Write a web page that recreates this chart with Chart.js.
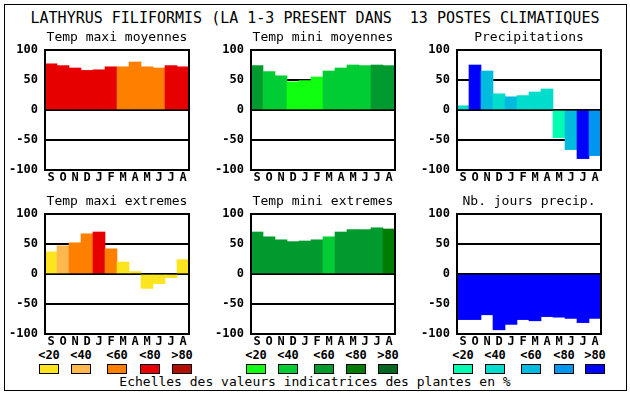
<!DOCTYPE html>
<html>
<head>
<meta charset="utf-8">
<script src="https://cdn.jsdelivr.net/npm/chart.js@4"></script>
<style>
  body { margin: 0; background: #fff; width: 630px; height: 394px; position: relative; overflow: hidden; }
  canvas { position: absolute; }
  .txt { position: absolute; font-family: "DejaVu Sans Mono", monospace; color: #000; white-space: pre; }
  #cadre { position: absolute; left: 4px; top: 4px; width: 623px; height: 387px; border: 1px solid #000; box-sizing: border-box; }
  .box { position: absolute; width: 20px; height: 10px; border: 1px solid #000; box-sizing: border-box; }
  .lab { position: absolute; width: 30px; text-align: center; font: bold 12px "DejaVu Sans Mono", monospace; }
</style>
</head>
<body>
<div id="cadre"></div>
<div class="txt" style="left:0;top:9px;width:630px;text-align:center;font-size:15px;line-height:18px;">LATHYRUS FILIFORMIS (LA 1-3 PRESENT DANS  13 POSTES CLIMATIQUES</div>
<div class="txt" style="left:0;top:374px;width:630px;text-align:center;font-size:13px;line-height:16px;">Echelles des valeurs indicatrices des plantes en %</div>
<div id="legende"></div>

<script>
// Donnees
const mois = ['S', 'O', 'N', 'D', 'J', 'F', 'M', 'A', 'M', 'J', 'J', 'A'];
const yTicks = [100, 50, 0, -50, -100];
const classes = ['<20', '<40', '<60', '<80', '>80'];

const tmaxMoy = [77, 74, 70, 66, 67, 72, 72, 80, 72, 70, 74, 72];
const tmaxMoyClasse = [3, 3, 3, 3, 3, 3, 2, 2, 2, 2, 3, 3];
const tminMoy = [74, 64, 57, 47, 49, 55, 65, 70, 75, 74, 75, 74];
const tminMoyClasse = [2, 1, 1, 0, 0, 0, 1, 1, 1, 1, 2, 2];
const precip = [7, 75, 65, 27, 22, 24, 30, 35, -46, -66, -81, -76];
const precipClasse = [1, 4, 2, 1, 2, 1, 1, 1, 0, 2, 4, 3];
const tmaxExt = [37, 47, 52, 67, 70, 42, 20, 4, -24, -16, -6, 24];
const tmaxExtClasse = [0, 1, 2, 2, 3, 2, 0, 0, 0, 0, 0, 0];
const tminExt = [70, 62, 57, 54, 55, 57, 62, 70, 74, 74, 77, 75];
const tminExtClasse = [2, 2, 2, 2, 2, 2, 1, 2, 2, 2, 2, 3];
const nbJours = [-76, -76, -68, -93, -84, -76, -78, -71, -72, -74, -81, -74];
const nbJoursClasse = [4, 4, 4, 4, 4, 4, 4, 4, 4, 4, 4, 4];

// Palettes
const rouges = ['#fce51e', '#ffb84d', '#ff7f00', '#e60000', '#b00e00'];
const verts = ['#10ff10', '#00cc33', '#009a2e', '#007d00', '#006622'];
const bleus = ['#00ffb0', '#00ddcc', '#00bbdd', '#0096f0', '#0000ff'];

const police = "'DejaVu Sans Mono', monospace";

// Cadre noir autour de la zone du graphique
const cadrePlugin = {
    id: 'cadre',
    afterDraw: (chart) => {
        const {ctx, chartArea} = chart;
        ctx.save();
        ctx.strokeStyle = '#000';
        ctx.lineWidth = 2;
        ctx.strokeRect(chartArea.left, chartArea.top, chartArea.right - chartArea.left, chartArea.bottom - chartArea.top);
        ctx.restore();
    }
};

function panneau(id, left, top, titre, valeurs, classe, palette) {
    const canvas = document.createElement('canvas');
    canvas.id = id;
    canvas.width = 192;
    canvas.height = 156;
    canvas.style.left = left + 'px';
    canvas.style.top = top + 'px';
    document.body.appendChild(canvas);

    return new Chart(canvas, {
        type: 'bar',
        data: {
            labels: mois,
            datasets: [{
                data: valeurs,
                backgroundColor: classe.map(c => palette[c]),
                borderWidth: 0,
                barPercentage: 1,
                categoryPercentage: 1
            }]
        },
        options: {
            responsive: false,
            animation: false,
            layout: { padding: { left: 0, right: 4, top: 0, bottom: 0 } },
            plugins: {
                legend: { display: false },
                tooltip: { enabled: false },
                title: {
                    display: true,
                    text: titre,
                    fullSize: false,
                    color: '#000',
                    font: { family: police, size: 13, weight: 'normal', lineHeight: '16px' },
                    padding: { top: 0, bottom: 4 }
                }
            },
            scales: {
                x: {
                    grid: { display: false, drawTicks: false },
                    border: { display: false },
                    ticks: {
                        color: '#000',
                        autoSkip: false,
                        maxRotation: 0,
                        padding: 1,
                        font: { family: police, size: 12, weight: 'bold' }
                    },
                    afterFit: (s) => { s.height = 16; }
                },
                y: {
                    min: -100,
                    max: 100,
                    z: 1,
                    grid: { color: '#000', lineWidth: 2, drawTicks: false },
                    border: { display: false },
                    afterBuildTicks: (s) => { s.ticks = yTicks.map(v => ({ value: v })); },
                    ticks: {
                        color: '#000',
                        padding: 7,
                        font: { family: police, size: 12, weight: 'bold' }
                    },
                    afterFit: (s) => { s.width = 44; }
                }
            }
        },
        plugins: [cadrePlugin]
    });
}

panneau('c1', 1, 30, 'Temp maxi moyennes', tmaxMoy, tmaxMoyClasse, rouges);
panneau('c2', 207, 30, 'Temp mini moyennes', tminMoy, tminMoyClasse, verts);
panneau('c3', 413, 30, 'Precipitations', precip, precipClasse, bleus);
panneau('c4', 1, 194, 'Temp maxi extremes', tmaxExt, tmaxExtClasse, rouges);
panneau('c5', 207, 194, 'Temp mini extremes', tminExt, tminExtClasse, verts);
panneau('c6', 413, 194, 'Nb. jours precip.', nbJours, nbJoursClasse, bleus);

// Echelles de couleurs sous les panneaux
const legende = document.querySelector('#legende');
const positions = [
    [39, 71, 107, 140, 172],
    [246, 278, 314, 346, 378],
    [453, 485, 521, 554, 585]
];
const palettes = [rouges, verts, bleus];
positions.forEach((xs, p) => {
    xs.forEach((x, i) => {
        const lab = document.createElement('div');
        lab.className = 'lab';
        lab.style.left = (x - 5) + 'px';
        lab.style.top = '348px';
        lab.textContent = classes[i];
        legende.appendChild(lab);

        const box = document.createElement('div');
        box.className = 'box';
        box.style.left = x + 'px';
        box.style.top = '364px';
        box.style.background = palettes[p][i];
        legende.appendChild(box);
    });
});
</script>
</body>
</html>
